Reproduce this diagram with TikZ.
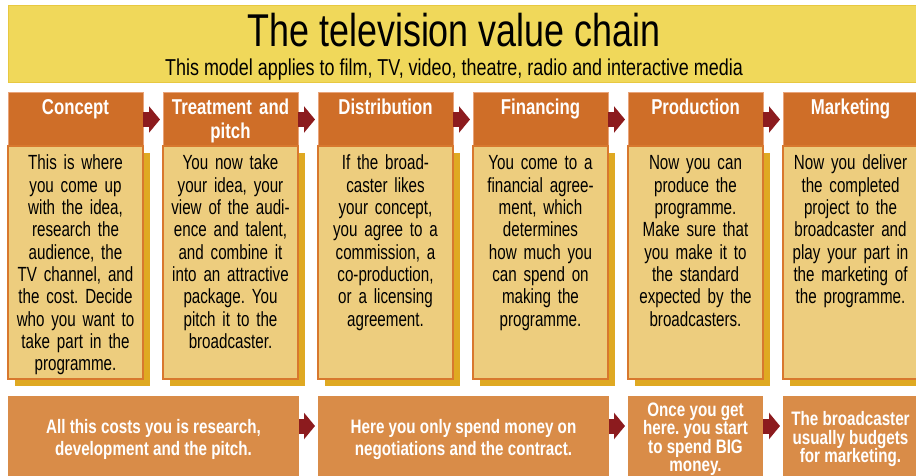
\documentclass[tikz,border=0pt]{standalone}
\usepackage{fontspec}
\setmainfont{Liberation Sans}[FakeStretch=0.78]
\newfontfamily\bodyfont{Liberation Sans}[FakeStretch=0.74]
\usetikzlibrary{positioning,shadows,arrows.meta}

\definecolor{bannerfill}{HTML}{F0D85A}
\definecolor{banneredge}{HTML}{E8C840}
\definecolor{headorange}{HTML}{CF6E28}
\definecolor{headedge}{HTML}{E9A47A}
\definecolor{bodyfill}{HTML}{EDCD7E}
\definecolor{bodyedge}{HTML}{D8782E}
\definecolor{shadowgold}{HTML}{DFA922}
\definecolor{arrowred}{HTML}{8C1B1E}
\definecolor{costorange}{HTML}{D98C48}

\tikzset{
  head/.style={rectangle, fill=headorange, draw=headedge, line width=1pt,
    text=white, font={\bfseries\fontsize{21.5}{24}\selectfont},
    text width=127pt, inner xsep=4pt, inner ysep=0pt, outer sep=0pt,
    align=center, text height=22pt, text depth=31pt},
  body/.style={rectangle, fill=bodyfill, draw=bodyedge, line width=1.3pt,
    font={\bodyfont\fontsize{20.5}{22.3}\selectfont\spaceskip=3.4pt plus 1pt},
    text width=127pt, inner xsep=4pt, inner ysep=0pt, outer sep=0pt,
    align=center, text height=24pt, text depth=209pt,
    drop shadow={shadow xshift=7pt, shadow yshift=-7pt, fill=shadowgold, opacity=1, draw=none}},
  cost/.style={rectangle, fill=costorange, text=white,
    font={\bfseries\fontsize{19.5}{22}\selectfont},
    align=center, minimum height=86pt, inner sep=0pt, outer sep=0pt},
  flow/.style={draw=arrowred, line width=15pt, shorten >=3pt,
    -{Triangle[width=26pt,length=11pt]}}
}

\begin{document}
\frenchspacing
\begin{tikzpicture}[x=1pt,y=-1pt]
\useasboundingbox (0,0) rectangle (916,476);
\clip (0,0) rectangle (916,476);

% title banner
\draw[fill=bannerfill, draw=banneredge, line width=1pt] (8,6) rectangle (930,83);
\node[anchor=base, font={\fontsize{46}{50}\selectfont}] (title) at (454,47) {The television value chain};
\node[anchor=base, font={\fontsize{23}{26}\selectfont}] (subtitle) at (454,75.5) {This model applies to film, TV, video, theatre, radio and interactive media};

% stage headers
\node[head, anchor=north west] (concept) at (8,93) {Concept};
\node[head, right=20pt of concept] (treatment) {Treatment and\\pitch};
\node[head, right=20pt of treatment] (distribution) {Distribution};
\node[head, right=20pt of distribution] (financing) {Financing};
\node[head, right=20pt of financing] (production) {Production};
\node[head, right=20pt of production] (marketing) {Marketing};

% stage descriptions
\node[body, below=0pt of concept] (conceptbody) {This is where\\you come up\\with the idea,\\research the\\audience, the\\TV channel, and\\the cost. Decide\\who you want to\\take part in the\\programme.};
\node[body, below=0pt of treatment] (treatmentbody) {You now take\\your idea, your\\view of the audi-\\ence and talent,\\and combine it\\into an attractive\\package. You\\pitch it to the\\broadcaster.};
\node[body, below=0pt of distribution] (distributionbody) {If the broad-\\caster likes\\your concept,\\you agree to a\\commission, a\\co-production,\\or a licensing\\agreement.};
\node[body, below=0pt of financing] (financingbody) {You come to a\\financial agree-\\ment, which\\determines\\how much you\\can spend on\\making the\\programme.};
\node[body, below=0pt of production] (productionbody) {Now you can\\produce the\\programme.\\Make sure that\\you make it to\\the standard\\expected by the\\broadcasters.};
\node[body, below=0pt of marketing] (marketingbody) {Now you deliver\\the completed\\project to the\\broadcaster and\\play your part in\\the marketing of\\the programme.};

\draw[flow] (concept) -- (treatment);
\draw[flow] (treatment) -- (distribution);
\draw[flow] (distribution) -- (financing);
\draw[flow] (financing) -- (production);
\draw[flow] (production) -- (marketing);

% costs along the chain
\node[cost, anchor=north west, minimum width=291pt] (research) at (8,396) {All this costs you is research,\\development and the pitch.};
\node[cost, right=19pt of research, minimum width=291pt] (negotiate) {Here you only spend money on\\negotiations and the contract.};
\node[cost, right=19pt of negotiate, minimum width=135pt, font={\bfseries\fontsize{19.5}{18.5}\selectfont}] (bigmoney) {Once you get\\here. you start\\to spend BIG\\money.};
\node[cost, right=20pt of bigmoney, minimum width=135pt, font={\bfseries\fontsize{19.5}{18.5}\selectfont}] (budget) {The broadcaster\\usually budgets\\for marketing.};

\draw[flow] ([yshift=13pt]research.east) -- ([yshift=13pt]negotiate.west);
\draw[flow] ([yshift=13pt]negotiate.east) -- ([yshift=13pt]bigmoney.west);
\draw[flow] ([yshift=13pt]bigmoney.east) -- ([yshift=13pt]budget.west);
\end{tikzpicture}
\end{document}
